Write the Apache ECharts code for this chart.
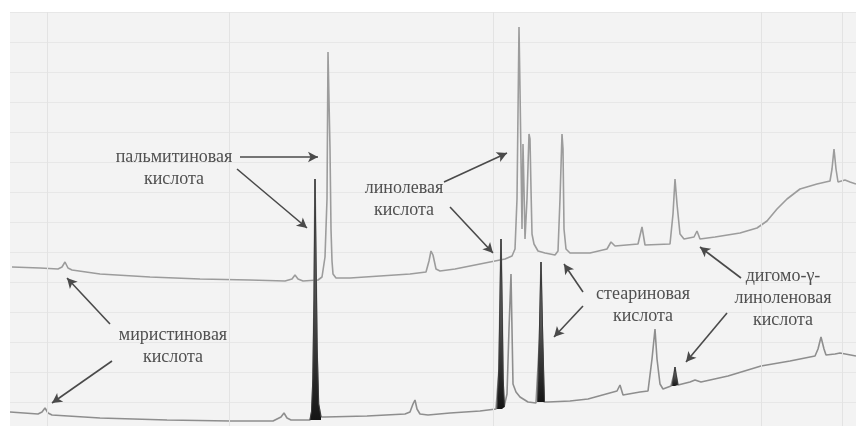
<!DOCTYPE html>
<html><head><meta charset="utf-8">
<script src="https://cdn.jsdelivr.net/npm/echarts@6/dist/echarts.min.js"></script>
<style>html,body{margin:0;padding:0;background:#fff}#c{width:856px;height:435px}</style>
</head><body><div id="c"></div>
<script>
// Upper chromatogram trace [retention, signal]
const upperTrace = [[12,165],[40,164],[58,163],[62,165],[65,170],[68,164],[72,162],[100,158],[150,155],[200,153],[250,152],[285,151],[292,153],[295,157],[298,153],[303,151],[318,152],[322,155],[324,156],[325,175],[326,177],[327,233],[328,380],[329,380],[330,283],[331,203],[332,171],[333,158],[336,154],[350,154],[380,156],[410,158],[426,160],[429,171],[431,181],[433,177],[436,163],[440,161],[455,163],[470,166],[490,170],[505,173],[512,176],[515,183],[517,233],[519,405],[520,343],[521,273],[522,203],[523,288],[524,243],[525,193],[527,233],[529,298],[530,293],[531,243],[532,198],[534,188],[538,181],[545,179],[555,177],[558,181],[560,233],[562,298],[563,283],[564,203],[566,183],[570,179],[590,179],[607,183],[611,190],[615,186],[638,188],[642,205],[645,187],[670,188],[673,218],[675,253],[677,228],[680,198],[684,193],[694,195],[697,201],[700,193],[715,195],[740,199],[757,204],[767,211],[777,223],[787,233],[800,243],[817,248],[830,251],[832,263],[834,283],[836,263],[838,250],[845,252],[850,250],[856,248]];
// Lower chromatogram trace
const lowerTrace = [[10,20],[38,18],[42,20],[45,24],[48,19],[52,17],[100,14],[167,12],[230,11],[273,11],[281,15],[284,19],[287,14],[291,12],[310,12],[312,21],[313,53],[314,133],[315,253],[316,173],[317,83],[318.5,28],[321,15],[325,15],[367,16],[405,18],[410,20],[413,28],[415,32],[417,23],[420,18],[428,17],[450,19],[480,21],[496,23],[497,23],[499,63],[500,133],[501,193],[502,133],[503,53],[504,25],[507,38],[509,103],[511,158],[512,103],[513,48],[516,40],[520,35],[528,30],[536,29],[538,30],[539.5,93],[541,170],[542.5,93],[544,30],[548,30],[570,31],[588,33],[617,41],[620,47],[623,37],[640,40],[648,41],[652,73],[655,103],[657,73],[660,48],[663,43],[671,46],[672,46],[674,58],[675,65],[676,58],[678,47],[680,45],[690,50],[695,52],[701,50],[728,56],[761,66],[790,71],[815,76],[818,83],[821,95],[824,83],[826,77],[835,78],[840,79],[856,76]];
// Dark filled peaks of the lower trace
const peakPalmitic = [[310,12],[311.5,21],[312.8,53],[314,133],[315,253],[316,173],[317.2,83],[318.7,28],[321,15]];
const peakLinoleic = [[497,23],[498.8,63],[500,133],[501,193],[502,133],[503.2,53],[504.5,25]];
const peakStearic = [[537.5,30],[539.2,93],[541,170],[542.8,93],[544.5,30]];
const peakDihomo = [[672,46],[674,58],[675,65],[676,58],[678,47]];
// Annotation labels: [text, x, y]
const labels = [
  ['пальмитиновая\nкислота', 174, 264],
  ['линолевая\nкислота', 404, 233],
  ['стеариновая\nкислота', 643, 127],
  ['дигомо-γ-\nлиноленовая\nкислота', 783, 134],
  ['миристиновая\nкислота', 173, 86]
];
// Annotation arrows: [fromX, fromY, toX, toY]
const arrows = [
  [240,275,318,275],[237,263,307,204],
  [444,250,507,279],[450,225,493,179],
  [583,140,564,168],[583,126,554,95],
  [741,154,700,185],[727,119,686,70],
  [110,108,67,154],[112,71,52,29]
];
const gridX = [47,229,493,761,842];

const chart = echarts.init(document.getElementById('c'));
function peakSeries(d){
  return {type:'line', data:d, symbol:'none', z:5,
    lineStyle:{color:'#3a3a3a', width:1},
    areaStyle:{origin: d[0][1], opacity:1,
      color:new echarts.graphic.LinearGradient(0,0,0,1,[{offset:0,color:'#888'},{offset:1,color:'#151515'}])}};
}
chart.setOption({
  animation:false,
  backgroundColor:'#fff',
  grid:{left:10,right:0,top:12,bottom:3,show:true,backgroundColor:'#f3f3f3',borderWidth:0},
  xAxis:{type:'value',min:10,max:856,show:true,axisLine:{show:false},axisTick:{show:false},axisLabel:{show:false},splitLine:{show:false}},
  yAxis:{type:'value',min:0,max:420,interval:30,axisLine:{show:false},axisTick:{show:false},axisLabel:{show:false},splitLine:{lineStyle:{color:'#e7e7e7',width:1}}},
  graphic:[{type:'rect',left:0,bottom:0,shape:{width:856,height:9},style:{fill:'#fff'},z:100}],
  series:[
    {type:'line',data:upperTrace,symbol:'none',lineStyle:{color:'#9c9c9c',width:1.6},z:3,
      markLine:{silent:true,symbol:'none',label:{show:false},lineStyle:{color:'#e3e3e3',width:1,type:'solid'},
        data:gridX.map(v=>({xAxis:v}))}},
    {type:'line',data:lowerTrace,symbol:'none',lineStyle:{color:'#8e8e8e',width:1.6},z:4},
    peakSeries(peakPalmitic),peakSeries(peakLinoleic),peakSeries(peakStearic),peakSeries(peakDihomo),
    {type:'line',data:[],symbol:'none',z:10,
      markLine:{silent:true,symbol:['none','arrow'],symbolSize:[8,10],label:{show:false},
        lineStyle:{color:'#4a4a4a',width:1.6,type:'solid'},
        data:arrows.map(a=>[{coord:[a[0],a[1]]},{coord:[a[2],a[3]]}])},
      markPoint:{silent:true,symbol:'circle',symbolSize:0,
        label:{show:true,position:'inside',fontFamily:'Liberation Serif',fontSize:18,lineHeight:22,color:'#505050',align:'center',verticalAlign:'middle',formatter:p=>p.name},
        data:labels.map(l=>({name:l[0],coord:[l[1],l[2]]}))}}
  ]
});
</script></body></html>
